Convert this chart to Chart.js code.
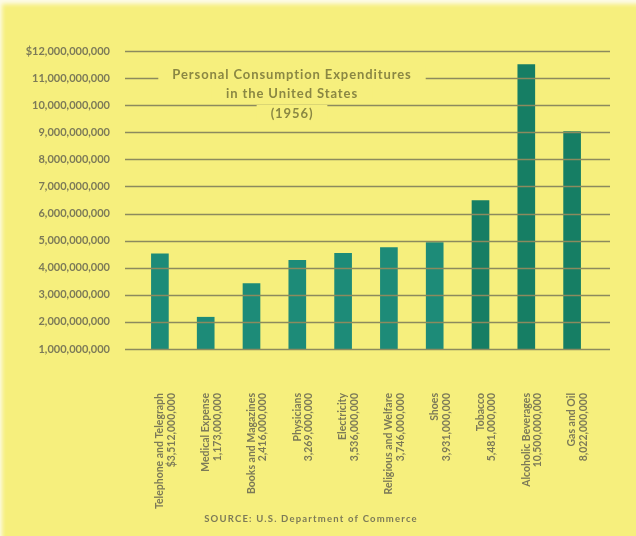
<!DOCTYPE html>
<html>
<head>
<meta charset="utf-8">
<script src="https://cdn.jsdelivr.net/npm/chart.js@4"></script>
<style>
  html, body { margin: 0; padding: 0; background: #f6ef7d; }
  #wrap { width: 636px; height: 536px; box-shadow: inset 4px 6px 4px -2px #fdfbe8; }
</style>
</head>
<body>
<div id="wrap"><canvas id="grafico" width="636" height="536"></canvas></div>
<script>
// dados (1956, dolares)
const categorias = ['Telephone and Telegraph', 'Medical Expense', 'Books and Magazines', 'Physicians', 'Electricity',
    'Religious and Welfare', 'Shoes', 'Tobacco', 'Alcoholic Beverages', 'Gas and Oil'];
const rotulosValor = ['$3,512,000,000', '1,173,000,000', '2,416,000,000', '3,269,000,000', '3,536,000,000',
    '3,746,000,000', '3,931,000,000', '5,481,000,000', '10,500,000,000', '8,022,000,000'];
const valores = [3512000000, 1173000000, 2416000000, 3269000000, 3536000000,
    3746000000, 3931000000, 5481000000, 10500000000, 8022000000];
// o eixo original comeca em "1,000,000,000" na linha de base
const baseRotulo = 1000000000;
const titulo = ['Personal Consumption Expenditures', 'in the United States', '(1956)'];
const fonte = 'SOURCE: U.S. Department of Commerce';

const corFundo = '#f6ef7d';
const corLinha = '#8c8a5e';
const corTexto = '#7c7a58';
const coresBarras = valores.map((_, i) => i < 7 ? '#1d8b78' : '#167e64');

// linhas de grade por cima das barras + titulo + fonte
const extras = {
    id: 'extras',
    afterDatasetsDraw(chart) {
        const ctx = chart.ctx;
        const y = chart.scales.y;
        ctx.save();
        ctx.strokeStyle = corLinha;
        ctx.lineWidth = 1.6;
        y.ticks.forEach(t => {
            const py = Math.round(y.getPixelForValue(t.value)) + 0.5;
            ctx.beginPath();
            ctx.moveTo(125, py);
            ctx.lineTo(610, py);
            ctx.stroke();
        });

        // titulo com fundo para interromper as linhas
        ctx.font = 'bold 13px Lato';
        ctx.letterSpacing = '0.9px';
        ctx.textAlign = 'center';
        ctx.textBaseline = 'middle';
        const cx = 292;
        const ys = [75, 94, 114];
        titulo.forEach((linha, i) => {
            const w = ctx.measureText(linha).width;
            ctx.fillStyle = corFundo;
            ctx.fillRect(cx - w / 2 - 14, ys[i] - 9, w + 28, 18);
            ctx.fillStyle = '#8a8743';
            ctx.fillText(linha, cx, ys[i]);
        });

        ctx.font = 'bold 9.5px Lato';
        ctx.letterSpacing = '1.2px';
        ctx.fillStyle = corTexto;
        ctx.fillText(fonte, 311, 519);
        ctx.restore();
    }
};

new Chart(document.getElementById('grafico'), {
    type: 'bar',
    data: {
        labels: categorias.map((c, i) => [c, rotulosValor[i]]),
        datasets: [{
            data: valores,
            backgroundColor: coresBarras,
            barThickness: 17
        }]
    },
    options: {
        responsive: false,
        animation: false,
        layout: { padding: { left: 20, right: 41, top: 51, bottom: 0 } },
        plugins: { legend: { display: false }, tooltip: { enabled: false } },
        scales: {
            x: {
                grid: { display: false },
                border: { display: false },
                afterFit: (scale) => { scale.height = 187; },
                ticks: {
                    minRotation: 90,
                    maxRotation: 90,
                    padding: 36,
                    color: corTexto,
                    font: { family: 'Lato', weight: 'bold', size: 10.5, lineHeight: 1.1 }
                }
            },
            y: {
                min: 0,
                max: 11000000000,
                grid: { display: false },
                border: { display: false },
                // largura fixa para a area do grafico comecar em x=137
                afterFit: (scale) => { scale.width = 117; },
                ticks: {
                    stepSize: 1000000000,
                    padding: 19,
                    color: corTexto,
                    font: { family: 'Lato', weight: 'bold', size: 11 },
                    callback: function (v) {
                        const s = (Number(v) + baseRotulo).toLocaleString('en-US');
                        return Number(v) > 10500000000 ? '$' + s : s;
                    }
                }
            }
        }
    },
    plugins: [extras]
});
</script>
</body>
</html>
